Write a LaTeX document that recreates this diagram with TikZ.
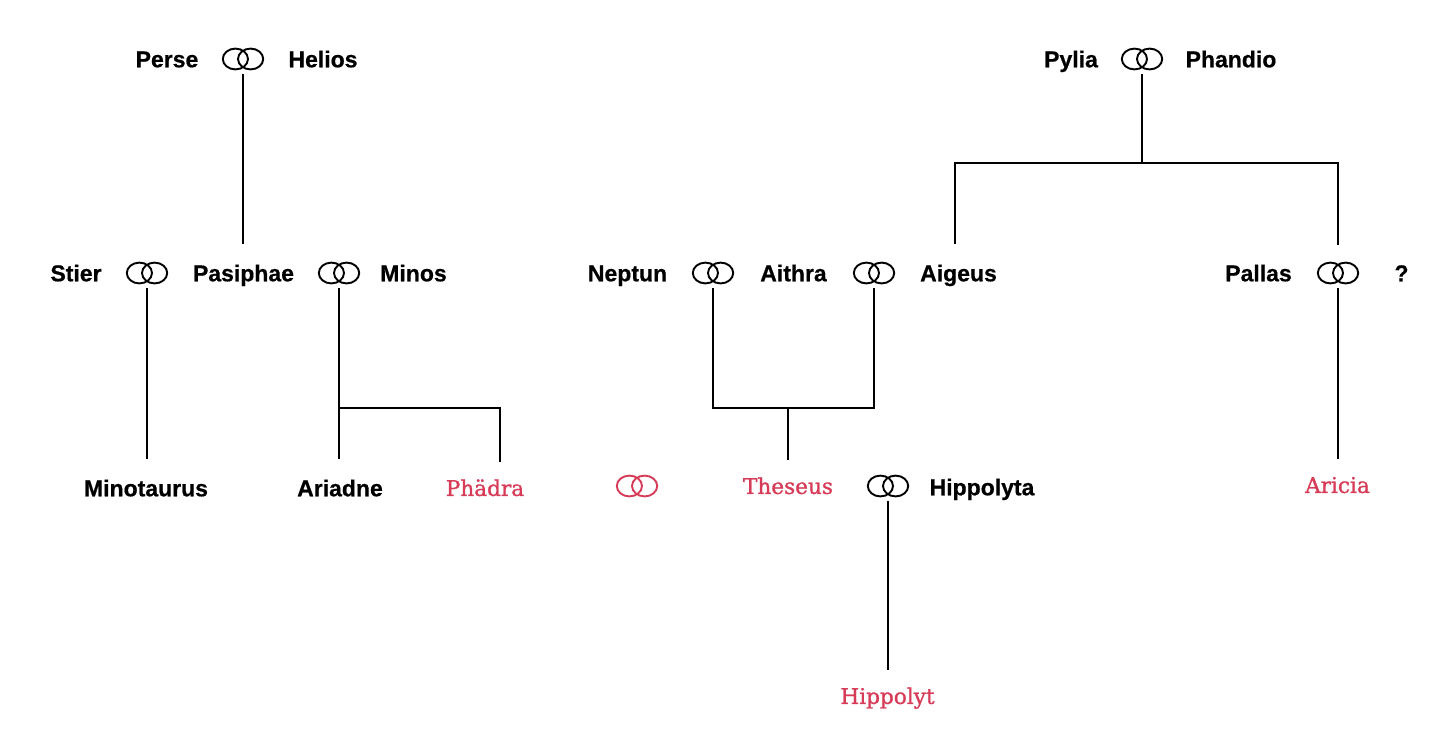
\documentclass[tikz,border=0pt]{standalone}
\usepackage{fontspec}
\setmainfont{Liberation Sans}[BoldFeatures={FakeBold=0.6}]
\newfontfamily\serifred{DejaVu Serif}[FakeBold=1.2]
\definecolor{rose}{RGB}{214,60,88}
\tikzset{
  elder/.style={font=\fontsize{11.5}{14}\selectfont\bfseries, inner sep=0pt, text height=8.3pt, text depth=0pt, minimum height=29pt},
  heir/.style={font=\fontsize{10.8}{13}\serifred, text=rose, inner sep=0pt, text height=7.9pt, text depth=0pt, minimum height=26pt},
  rings/.style={inner sep=0pt, minimum width=21pt, minimum height=15pt},
  ring/.style={line width=0.95pt},
  bond/.style={line width=1pt}
}
\begin{document}
\begin{tikzpicture}[x=0.5pt,y=-0.5pt]
\useasboundingbox (0,0) rectangle (1440,750);
\node[elder] (perse) at (167,59) {Perse};
\node[rings] (rPH) at (243,59) {};
\node[elder] (helios) at (323,59) {Helios};
\node[elder] (pylia) at (1071,59) {Pylia};
\node[rings] (rPY) at (1142,59) {};
\node[elder] (phandio) at (1231,59) {Phandio};
\node[elder] (stier) at (76,273) {Stier};
\node[rings] (rSP) at (147,273) {};
\node[elder] (pasiphae) at (243.5,273) {Pasiphae};
\node[rings] (rPM) at (339,273) {};
\node[elder] (minos) at (413.5,273) {Minos};
\node[elder] (neptun) at (627.5,273) {Neptun};
\node[rings] (rNA) at (713,273) {};
\node[elder] (aithra) at (793.5,273) {Aithra};
\node[rings] (rAA) at (874,273) {};
\node[elder] (aigeus) at (958.5,273) {Aigeus};
\node[elder] (pallas) at (1258.5,273) {Pallas};
\node[rings] (rPA) at (1338,273) {};
\node[elder] (unknown) at (1401.5,273) {?};
\node[elder] (minotaurus) at (146,488) {Minotaurus};
\node[elder] (ariadne) at (340,488) {Ariadne};
\node[heir] (phaedra) at (485,488) {Phädra};
\node[rings] (rRed) at (637,486) {};
\node[heir] (theseus) at (788,486) {Theseus};
\node[rings] (rTH) at (888,486) {};
\node[elder] (hippolyta) at (982,487) {Hippolyta};
\node[heir] (aricia) at (1337.5,485) {Aricia};
\node[heir] (hippolyt) at (887.5,696) {Hippolyt};
\foreach \r in {rPH,rPY,rSP,rPM,rNA,rAA,rPA,rTH}
  \draw[ring] ([xshift=-3.8pt]\r.center) ellipse (6.3pt and 5.2pt) ([xshift=3.8pt]\r.center) ellipse (6.3pt and 5.2pt);
\draw[ring,rose] ([xshift=-3.8pt]rRed.center) ellipse (6.3pt and 5.2pt) ([xshift=3.8pt]rRed.center) ellipse (6.3pt and 5.2pt);
\draw[bond] (rPH.south) -- (rPH.south |- pasiphae.north);
\draw[bond] (rPY.south) -- ++(0,89) coordinate (barPY);
\draw[bond] ([xshift=-2pt]aigeus.north) |- (barPY) -| ([yshift=6.5pt]rPA.north);
\draw[bond] (rSP.south) -- (rSP.south |- minotaurus.north);
\draw[bond] (rPM.south) -- (rPM.south |- ariadne.north);
\draw[bond] (rPM.south) ++(0,120) -| ([xshift=7.5pt]phaedra.north);
\draw[bond] (rNA.south) -- ++(0,120) coordinate (barNA) -| (rAA.south);
\draw[bond] (theseus.north) -- (theseus.north |- barNA);
\draw[bond] (rTH.south) -- (rTH.south |- hippolyt.north);
\draw[bond] (rPA.south) -- (rPA.south |- aricia.north);
\end{tikzpicture}
\end{document}
